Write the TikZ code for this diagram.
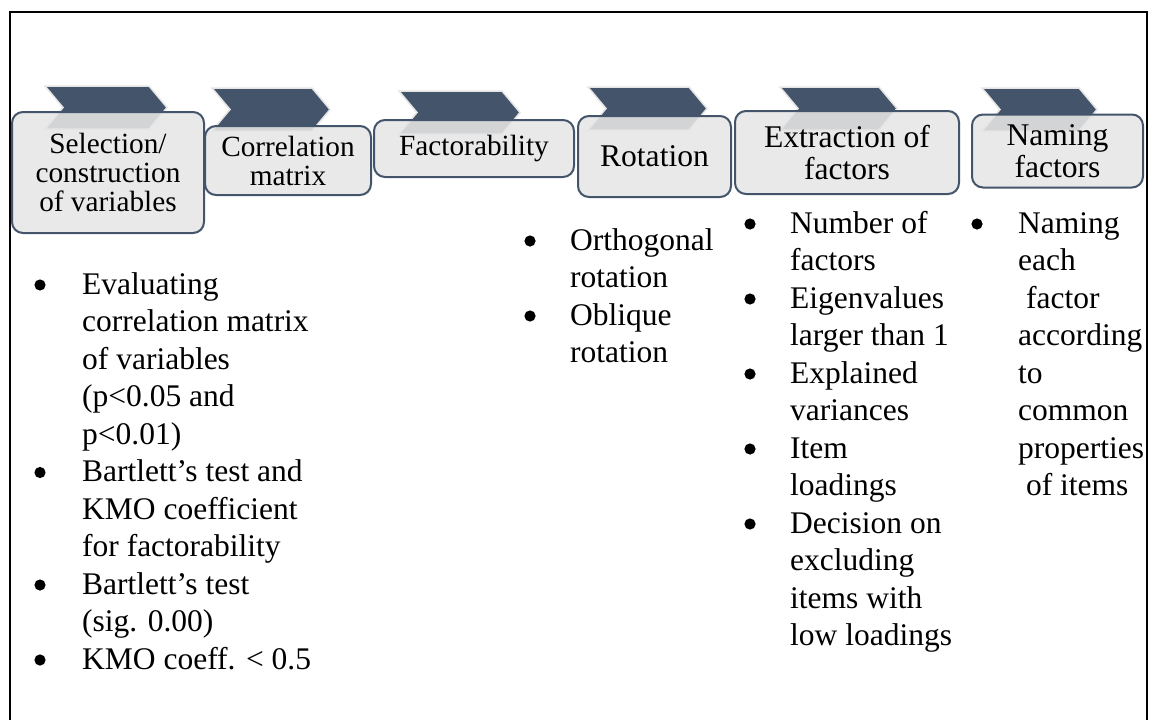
\documentclass[tikz,border=0pt]{standalone}
\usepackage{fontspec}
\setmainfont{Liberation Serif}
\definecolor{slate}{HTML}{44546A}
\definecolor{boxgray}{HTML}{E6E6E6}

% bullet lists: every line starts after a fixed indent; the dots are drawn apart
\newlength\bgap
\newcommand\blline[1]{\hbox{\hspace{\bgap}#1}}

\begin{document}
\begin{tikzpicture}[x=1pt,y=-1pt,
  chev/.style={fill=slate, draw=black!10, line width=1.5pt, line join=miter},
  stage/.style={draw=slate, line width=2pt, fill=boxgray, fill opacity=0.88,
    text opacity=1, rounded corners=11pt, inner sep=0pt, align=center},
  stageA/.style={stage, font=\fontsize{29.3}{29}\selectfont},
  stageB/.style={stage, font=\fontsize{31.6}{32.5}\selectfont},
  bullets/.style={anchor=base west, inner sep=0pt,
    font=\fontsize{31.5}{37.5}\selectfont},
  dot/.style={fill=black},
]
\useasboundingbox (0,0) rectangle (1157,720);
\fill[white] (0,0) rectangle (1157,720);

% chevrons behind the stage boxes
\foreach \L/\T/\W in {45/86/122, 212/88/118, 399/91/121, 588/87/119, 780/87/117, 982/88/115}
  \filldraw[chev] (\L,\T) -- ++(\W-18,0) -- ++(18,21.5) -- ++(-18,21.5)
    -- ++(-\W+18,0) -- ++(18,-21.5) -- cycle;

% stage boxes
\node[stageA, minimum width=192pt, minimum height=121pt] (s1) at (108,172.5)
  {Selection/\\construction\\of variables};
\node[stageA, minimum width=166pt, minimum height=69pt] (s2) at (288,160.5)
  {Correlation\\matrix};
\node[stageA, minimum width=200pt, minimum height=57pt] (s3) at (474,148.5)
  {Factorability};
\node[stageB, minimum width=153pt, minimum height=81pt] (s4) at (654.5,156.5)
  {Rotation};
\node[stageB, minimum width=224pt, minimum height=83pt] (s5) at (847,152.5)
  {Extraction of\\factors};
\node[stageB, minimum width=171pt, minimum height=73pt] (s6) at (1057.5,151)
  {Naming\\factors};

% bullet lists
\node[bullets] (l1) at (34.5,294) {\setlength\bgap{47.5pt}\vtop{%
  \blline{Evaluating}
  \blline{correlation matrix}
  \blline{of variables}
  \blline{(p<0.05 and}
  \blline{p<0.01)}
  \blline{Bartlett’s test and}
  \blline{KMO coefficient}
  \blline{for factorability}
  \blline{Bartlett’s test}
  \blline{(sig. 0.00)}
  \blline{KMO coeff. < 0.5}}};
\foreach \k in {0,5,8,10} \fill[dot] (40,294+\k*37.5-9) circle (5.6pt);

\node[bullets] (l4) at (524.5,250) {\setlength\bgap{45.5pt}\vtop{%
  \blline{Orthogonal}
  \blline{rotation}
  \blline{Oblique}
  \blline{rotation}}};
\foreach \k in {0,2} \fill[dot] (530,250+\k*37.5-9) circle (5.6pt);

\node[bullets] (l5) at (744.5,233) {\setlength\bgap{45.5pt}\vtop{%
  \blline{Number of}
  \blline{factors}
  \blline{Eigenvalues}
  \blline{larger than 1}
  \blline{Explained}
  \blline{variances}
  \blline{Item}
  \blline{loadings}
  \blline{Decision on}
  \blline{excluding}
  \blline{items with}
  \blline{low loadings}}};
\foreach \k in {0,2,4,6,8} \fill[dot] (750,233+\k*37.5-9) circle (5.6pt);

\node[bullets] (l6) at (971.5,233) {\setlength\bgap{46.5pt}\vtop{%
  \blline{Naming}
  \blline{each}
  \blline{\ factor}
  \blline{according}
  \blline{to}
  \blline{common}
  \blline{properties}
  \blline{\ of items}}};
\fill[dot] (977,233-9) circle (5.6pt);

% outer frame
\draw[line width=2pt] (10,720) -- (10,12) -- (1147,12) -- (1147,720);
\end{tikzpicture}
\end{document}
